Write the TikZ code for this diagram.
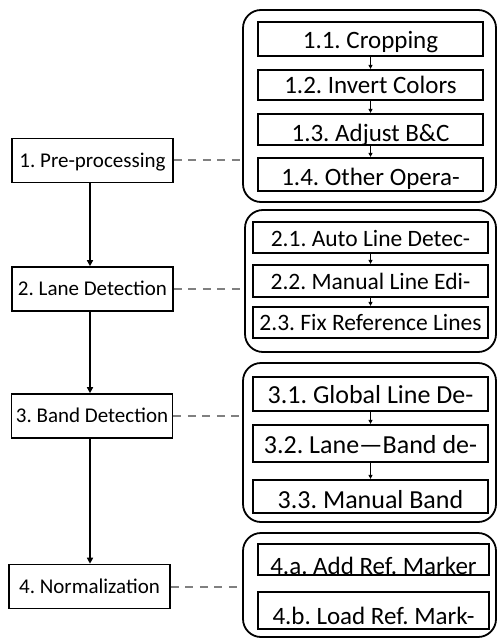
\documentclass[tikz,border=0pt]{standalone}
\usepackage{fontspec}
\setmainfont{Carlito}
\usetikzlibrary{arrows.meta}
\frenchspacing

\begin{document}
\begin{tikzpicture}[x=1pt,y=-1pt,
  stage/.style={draw, line width=1.6pt, minimum width=161pt, minimum height=44pt,
    inner sep=0pt, font=\fontsize{21}{24}\selectfont, text height=13.5pt, text depth=0pt},
  group/.style={draw, line width=1.8pt, rounded corners=18pt, inner sep=0pt},
  substep/.style={draw, line width=2.2pt, inner sep=0pt, text depth=0pt},
  spine/.style={line width=1.5pt, -{Triangle[length=6pt,width=6pt]}},
  link/.style={line width=1pt, -{Triangle[length=4pt,width=4pt]}},
  tie/.style={draw=black!50, line width=2pt, dash pattern=on 8pt off 6.5pt}]
\useasboundingbox (0,0) rectangle (498,639);

% main stages
\node[stage] (s1) at (92.5,160.5) {1. Pre-processing};
\node[stage] (s2) at (92.5,289) {2. Lane Detection};
\node[stage] (s3) at (92,416) {3. Band Detection};
\node[stage] (s4) at (89.5,586.5) {4. Normalization};
\coordinate (spine) at (90,0);

% sub-step groups
\node[group, minimum width=253pt, minimum height=192pt] (g1) at (369.5,106) {};
\node[group, minimum width=251pt, minimum height=142pt] (g2) at (370.5,281) {};
\node[group, minimum width=253pt, minimum height=159pt] (g3) at (369.5,442.5) {};
\node[group, minimum width=253pt, minimum height=104pt] (g4) at (369.5,585) {};

% group 1
\begin{scope}[every node/.style={substep, minimum width=225pt, font=\fontsize{25}{28}\selectfont}]
\node[minimum height=34pt, text height=19pt] (a11) at (370.5,39) {1.1. Cropping};
\node[minimum height=30pt, text height=18pt] (a12) at (370.5,85) {1.2. Invert Colors};
\node[minimum height=31pt, text height=25pt] (a13) at (370.5,129.5) {1.3. Adjust B\&C};
\node[minimum height=33pt, text height=22pt] (a14) at (370.5,174.5) {1.4. Other Opera-};
\end{scope}

% group 2
\begin{scope}[every node/.style={substep, minimum width=235pt, font=\fontsize{23.5}{27}\selectfont}]
\node[minimum height=31pt, text height=18pt] (b21) at (370.5,237.5) {2.1. Auto Line Detec-};
\node[minimum height=32pt, text height=17pt] (b22) at (370.5,281) {2.2. Manual Line Edi-};
\node[minimum height=31pt, text height=15pt] (b23) at (370.5,322.5) {2.3. Fix Reference Lines};
\end{scope}

% group 3
\begin{scope}[every node/.style={substep, minimum width=235pt, font=\fontsize{26}{29}\selectfont}]
\node[minimum height=34pt, text height=19.5pt] (c31) at (370.5,394) {3.1. Global Line De-};
\node[minimum height=37pt, text height=19.5pt] (c32) at (370.5,443.5) {3.2. Lane---Band de-};
\node[minimum height=33pt, text height=23.5pt] (c33) at (370.5,496.5) {3.3. Manual Band};
\end{scope}

% group 4
\begin{scope}[every node/.style={substep, minimum width=231pt, font=\fontsize{25}{28}\selectfont}]
\node[minimum height=31pt, text height=30pt] (d4a) at (373.5,559.5) {4.a. Add Ref. Marker};
\node[minimum height=37pt, text height=28pt] (d4b) at (373.5,610.5) {4.b. Load Ref. Mark-};
\end{scope}

% flow between main stages
\draw[spine] (s1.south -| spine) -- (s2.north -| spine);
\draw[spine] (s2.south -| spine) -- (s3.north -| spine);
\draw[spine] (s3.south -| spine) -- (s4.north -| spine);

% flow inside groups
\draw[link] (a11.south) -- (a12.north);
\draw[link] (a12.south) -- (a13.north);
\draw[link] (a13.south) -- (a14.north);
\draw[link] (b21.south) -- (b22.north);
\draw[link] (b22.south) -- (b23.north);
\draw[link] (c31.south) -- (c32.north);
\draw[link] (c32.south) -- (c33.north);

% stage-to-group ties
\draw[tie] (s1.east) -- (s1.east -| g1.west);
\draw[tie] (s2.east) -- (s2.east -| g2.west);
\draw[tie] (s3.east) -- (s3.east -| g3.west);
\draw[tie] (s4.east) -- (s4.east -| g4.west);
\end{tikzpicture}
\end{document}
